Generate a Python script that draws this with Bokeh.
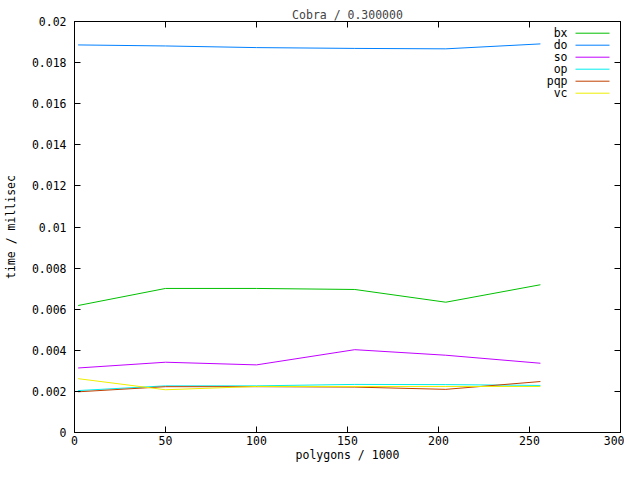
from bokeh.plotting import figure
from bokeh.models import Range1d, LinearAxis, FixedTicker, CustomJSTickFormatter, Label, Arrow
from bokeh.embed import file_html
from bokeh.resources import INLINE

# data
x_k = [2, 50, 100, 154, 204, 256]
bx = [0.00618, 0.00701, 0.00701, 0.00696, 0.00634, 0.00719]
do = [0.01886, 0.01881, 0.01873, 0.01869, 0.01867, 0.01891]
so = [0.00314, 0.00342, 0.00329, 0.00403, 0.00376, 0.00337]
op = [0.00204, 0.00227, 0.00227, 0.00234, 0.00233, 0.00229]
pqp = [0.00198, 0.00223, 0.00223, 0.00221, 0.00210, 0.00248]
vc = [0.00262, 0.00208, 0.00224, 0.00224, 0.00224, 0.00224]

names = ["bx", "do", "so", "op", "pqp", "vc"]
colors = ["#00c000", "#0080ff", "#c000ff", "#00eeee", "#c04000", "#eeee00"]
x_ticks = [0, 50, 100, 150, 200, 250, 300]
y_ticks = [0, 0.002, 0.004, 0.006, 0.008, 0.01, 0.012, 0.014, 0.016, 0.018, 0.02]

FONT = "DejaVu Sans Mono"
FS = "11.5px"
W, H = 624, 464
BL, BR, BT, BB = 72, 4, 21, 32

p = figure(width=W, height=H, output_backend="svg", toolbar_location=None,
           x_range=Range1d(0, 300), y_range=Range1d(0, 0.02),
           min_border_left=BL, min_border_right=BR, min_border_top=BT, min_border_bottom=BB,
           title="Cobra / 0.300000")
p.title.align = "center"
p.title.text_font = FONT
p.title.text_font_size = FS
p.title.text_font_style = "normal"
p.title.standoff = 0
p.title.offset = 0

p.grid.visible = False
p.outline_line_color = "black"
p.outline_line_alpha = 1
p.background_fill_color = "white"
p.border_fill_color = "white"

yfmt = CustomJSTickFormatter(code="return String(parseFloat(tick.toFixed(4)));")
blank = CustomJSTickFormatter(code="return '';")

for ax in p.xaxis:
    ax.ticker = FixedTicker(ticks=x_ticks)
for ax in p.yaxis:
    ax.ticker = FixedTicker(ticks=y_ticks)
    ax.formatter = yfmt

for ax in list(p.xaxis) + list(p.yaxis):
    ax.major_tick_in = 6
    ax.major_tick_out = 0
    ax.minor_tick_in = 0
    ax.minor_tick_out = 0
    ax.axis_line_color = "black"
    ax.major_tick_line_color = "black"
    ax.major_label_text_font = FONT
    ax.major_label_text_font_size = FS
    ax.major_label_text_color = "black"
    ax.axis_label_text_font = FONT
    ax.axis_label_text_font_size = FS
    ax.axis_label_text_font_style = "normal"
    ax.axis_label_text_color = "black"

p.xaxis.axis_label = "polygons / 1000"
p.xaxis.major_label_standoff = 3
p.xaxis.axis_label_standoff = 0
p.yaxis.axis_label = "time / millisec"
p.yaxis.major_label_standoff = 8
p.yaxis.axis_label_standoff = 11

# mirrored ticks on top and right
top_ax = LinearAxis(ticker=FixedTicker(ticks=x_ticks), formatter=blank,
                    major_tick_in=6, major_tick_out=0, minor_tick_in=0, minor_tick_out=0,
                    major_label_standoff=0, axis_line_color="black")
right_ax = LinearAxis(ticker=FixedTicker(ticks=y_ticks), formatter=blank,
                      major_tick_in=6, major_tick_out=0, minor_tick_in=0, minor_tick_out=0,
                      major_label_standoff=0, axis_line_color="black")
p.add_layout(top_ax, "above")
p.add_layout(right_ax, "right")

series = [bx, do, so, op, pqp, vc]
for name, ys, c in zip(names, series, colors):
    p.line(x_k, ys, line_color=c, line_width=1)

# gnuplot-style key: label on the left, sample line on the right
frame_h = H - BT - BB
row0 = frame_h - 11.7
for i, (name, c) in enumerate(zip(names, colors)):
    yy = row0 - 12 * i
    p.add_layout(Label(x=493, y=yy, x_units="screen", y_units="screen", text=name,
                       text_align="right", text_baseline="middle", text_font=FONT,
                       text_font_size=FS, text_color="black"))
    p.add_layout(Arrow(x_start=501, y_start=yy, x_end=535, y_end=yy,
                       start_units="screen", end_units="screen", end=None,
                       line_color=c, line_width=1))

open("out.html", "w").write(file_html(p, INLINE))
